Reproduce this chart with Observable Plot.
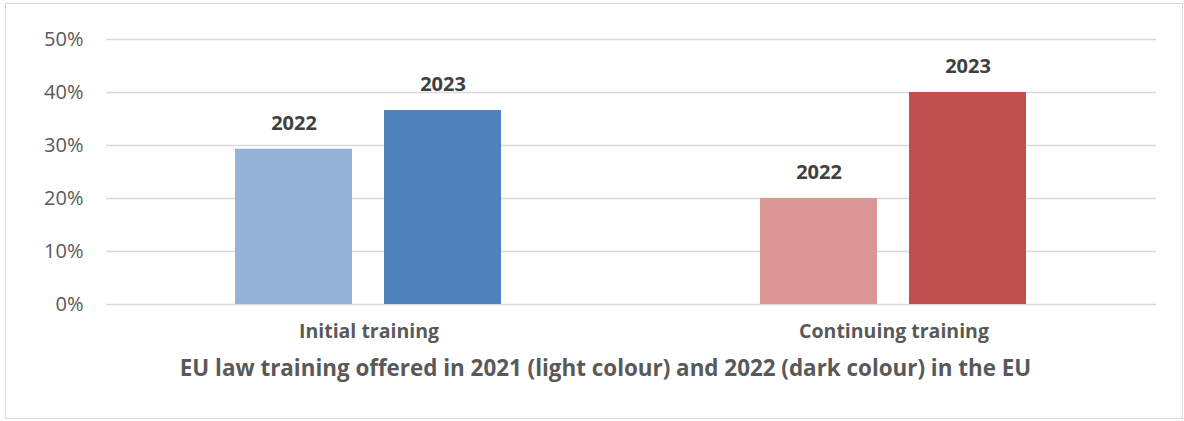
<!DOCTYPE html>
<html><head><meta charset="utf-8">
<script src="https://cdn.jsdelivr.net/npm/d3@7"></script>
<script src="https://cdn.jsdelivr.net/npm/@observablehq/plot@0.6"></script>
<style>
body{margin:0;background:#fff;}
#frame{position:absolute;left:5px;top:3px;width:1178px;height:416px;border:1px solid #d9d9d9;box-sizing:border-box;}
#chart{position:absolute;left:0;top:0;}
#chart g[aria-label="fx-axis tick label"] text{font-weight:bold;}
#chart g[aria-label="fx-axis label"] text{font-weight:bold;font-size:22.4px;}
</style></head><body>
<div id="frame"></div>
<div id="chart"></div>
<script>
// Data
const categories = ["Initial training", "Continuing training"];
const years = ["2022", "2023"];
const initialValues = [0.293, 0.366];
const continuingValues = [0.20, 0.40];
const yTicks = [0, 0.1, 0.2, 0.3, 0.4, 0.5];
const xTitle = "EU law training offered in 2021 (light colour) and 2022 (dark colour) in the EU";

// Styles
const barColors = ["#95B3D7", "#4F81BD", "#D99694", "#C0504D"];

const seriesByCategory = [initialValues, continuingValues];
const data = categories.flatMap((c, i) => years.map((y, j) => ({
  category: c, year: y, value: seriesByCategory[i][j], key: c + "|" + y
})));

const chart = Plot.plot({
  width: 1184,
  height: 421,
  marginLeft: 105,
  marginRight: 28,
  marginTop: 39,
  marginBottom: 117,
  style: {fontFamily: "'Open Sans', sans-serif", background: "transparent", overflow: "visible"},
  fx: {domain: categories, paddingInner: 0, paddingOuter: 0, label: null, axis: null},
  x: {domain: years, paddingInner: 0.2133, paddingOuter: 0.858, axis: null},
  y: {domain: [0, 0.5], axis: null},
  color: {domain: data.map(d => d.key), range: barColors},
  marks: [
    Plot.ruleY(yTicks, {stroke: "#d9d9d9", strokeWidth: 1.4}),
    Plot.axisY(yTicks, {tickFormat: d => Math.round(d * 100) + "%", tickSize: 0, tickPadding: 23, fontSize: 20, fill: "#595959", label: null}),
    Plot.barY(data, {fx: "category", x: "year", y: "value", fill: "key"}),
    Plot.text(data, {fx: "category", x: "year", y: "value", text: "year", dy: -26, fontSize: 20, fontWeight: "bold", fill: "#404040"}),
    Plot.axisFx({anchor: "bottom", tickSize: 0, tickPadding: 20, fontSize: 19.5, fontWeight: "bold", fill: "#595959",
      label: xTitle, labelAnchor: "center", labelOffset: 71})
  ]
});
const labelG = chart.querySelector('g[aria-label="fx-axis label"]');
if (labelG) labelG.setAttribute("transform", (labelG.getAttribute("transform") || "") + " translate(-26,0)");
document.getElementById("chart").appendChild(chart);
</script>
</body></html>
